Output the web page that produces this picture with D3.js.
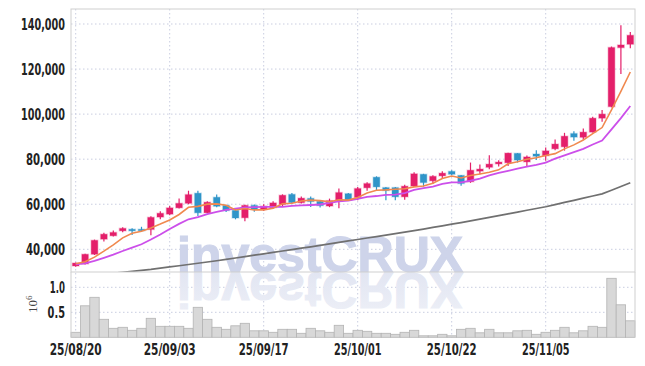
<!DOCTYPE html>
<html><head><meta charset="utf-8">
<script src="https://cdn.jsdelivr.net/npm/d3@7"></script>
<style>body{margin:0;background:#fff;} svg{display:block;}</style>
</head><body><svg id="c" width="645" height="366"></svg>
<script>
const dates = ["25/08/20","25/08/21","25/08/22","25/08/25","25/08/26","25/08/27","25/08/28","25/08/29","25/09/01","25/09/02",
"25/09/03","25/09/04","25/09/05","25/09/08","25/09/09","25/09/10","25/09/11","25/09/12","25/09/15","25/09/16",
"25/09/17","25/09/18","25/09/19","25/09/22","25/09/23","25/09/24","25/09/25","25/09/26","25/09/29","25/09/30",
"25/10/01","25/10/02","25/10/10","25/10/13","25/10/14","25/10/15","25/10/16","25/10/17","25/10/20","25/10/21",
"25/10/22","25/10/23","25/10/24","25/10/27","25/10/28","25/10/29","25/10/30","25/10/31","25/11/03","25/11/04",
"25/11/05","25/11/06","25/11/07","25/11/10","25/11/11","25/11/12","25/11/13","25/11/14","25/11/17","25/11/18"];
const open = [32600,33500,37800,44500,46000,48200,48900,48900,48800,54300,55600,58400,60400,64900,56200,63100,59500,57300,54000,59500,
57700,58500,59900,64400,60700,62600,61300,59200,61400,64700,63000,67300,72000,67400,67400,63300,68100,73300,70400,72600,
74600,72800,70000,74700,76400,77900,78400,82600,78800,82300,81500,84600,85500,91400,89700,92000,98200,103300,129500,131000];
const high = [34100,38000,44300,47300,48300,49800,49300,50000,54700,56900,59200,62500,66000,66000,61300,64300,59700,58100,59800,59900,
60000,61300,64400,65000,63400,63400,61500,62500,67000,65000,67700,69800,72400,67700,67600,68700,74200,73500,72900,74600,
75100,73000,78500,77600,81800,79500,82900,82700,81600,84000,85200,88700,91700,92400,93600,98800,101800,130000,139500,136400];
const low = [32300,33300,37500,43500,45700,47600,46300,48200,46200,53300,55100,58100,60000,54800,56000,58700,56600,53300,52400,56700,
57000,58100,59200,60200,60300,58800,58500,58700,58200,61700,61800,66000,66000,61800,61800,62000,67700,67800,69000,71500,
72900,68200,69500,73300,75500,76700,77000,78500,76700,79600,79300,84000,83800,88200,88700,91800,96600,103000,117800,129200];
const close = [33900,37800,44000,46700,47500,49300,48200,48300,54200,56000,58400,60400,64300,56200,60900,59100,57200,53900,59500,57700,
59200,60600,64000,60700,62700,61200,59400,61600,65200,61800,67000,69200,67700,66100,63300,68000,73500,69600,72400,73800,
73300,69200,75100,75600,77800,78700,82700,79600,81000,81300,83700,86700,90200,89800,92000,98200,100000,129600,130700,135000];
const volume = [100000,630000,800000,360000,180000,200000,140000,180000,380000,220000,220000,220000,180000,600000,360000,200000,160000,230000,280000,130000,
130000,100000,160000,160000,80000,180000,130000,100000,240000,80000,140000,120000,80000,80000,60000,100000,140000,30000,30000,60000,
30000,160000,180000,90000,160000,90000,90000,130000,140000,60000,100000,140000,200000,90000,130000,220000,200000,1180000,650000,330000];
const ma5 = [33580,34440,36540,39180,41980,45060,47140,48000,49500,51200,53020,55460,58660,59060,60040,60180,59540,57460,58120,57480,
57500,58180,60200,60440,61440,61840,61600,61120,62020,61840,63000,64960,66180,66360,66660,66860,67720,68100,69360,71460,
72520,71660,72760,73400,74200,75280,77980,78880,79960,80660,81660,82460,84580,86340,88480,91380,94040,101920,110100,118700];
const ma10 = [33360,33810,34880,36220,37640,39240,40730,42230,44320,46590,49040,51300,53330,54280,55620,56600,57500,58060,58590,58760,
58840,58860,58830,59280,59460,59670,59890,60660,61230,61640,62420,63280,63650,64190,64250,64930,66340,67140,67860,69060,
69690,69690,70430,71380,72830,73900,74820,75820,76680,77430,78470,80220,81730,83150,84570,86520,88250,93250,98220,103590];
const ma60 = [27700,28120,28540,28960,29380,29800,30220,30640,31060,31610,32160,32710,33260,33810,34360,34910,35530,36150,36770,37390,
38010,38630,39250,39870,40490,41110,41760,42410,43060,43710,44360,45010,45660,46310,46960,47610,48260,48980,49700,50420,
51140,51860,52580,53370,54160,54950,55740,56530,57320,58110,58900,59850,60800,61750,62700,63650,64600,66200,67850,69550];
const priceTicks = [40000,60000,80000,100000,120000,140000];
const volTicks = [500000,1000000];
const dateTicks = ["25/08/20","25/09/03","25/09/17","25/10/01","25/10/22","25/11/05"];

const svg = d3.select('#c');
const L=71, R=635, T=9, M=272, B=337.3;
const x = d3.scaleBand().domain(dates).range([L,R]).padding(0);
const cx = d => x(d) + x.bandwidth()/2;
const y = d3.scaleLinear().domain([29925,146660]).range([M,T]);
const yv = d3.scaleLinear().domain([0,1306000]).range([B,M]);

const defs = svg.append('defs');
defs.append('clipPath').attr('id','cp').append('rect').attr('x',L).attr('y',T).attr('width',R-L).attr('height',M-T);
const gr = defs.append('linearGradient').attr('id','refl').attr('x1',0).attr('y1',0).attr('x2',0).attr('y2',1);
gr.append('stop').attr('offset','0%').attr('stop-color','#eef0f7');
gr.append('stop').attr('offset','100%').attr('stop-color','#dfe3f1');

const gridC = '#c9cde0';
const g = svg.append('g');
g.selectAll('.hg').data(priceTicks).enter().append('line')
  .attr('x1',L).attr('x2',R).attr('y1',d=>y(d)).attr('y2',d=>y(d))
  .attr('stroke',gridC).attr('stroke-dasharray','1.5,2.5');
g.selectAll('.vg').data(volTicks).enter().append('line')
  .attr('x1',L).attr('x2',R).attr('y1',d=>yv(d)).attr('y2',d=>yv(d))
  .attr('stroke',gridC).attr('stroke-dasharray','1.5,2.5');
g.selectAll('.xg').data(dateTicks).enter().append('line')
  .attr('x1',d=>cx(d)).attr('x2',d=>cx(d)).attr('y1',T).attr('y2',B)
  .attr('stroke',gridC).attr('stroke-dasharray','1.5,2.5');

// watermark + reflection
svg.append('text').attr('x',177).attr('y',M).text('investCRUX')
  .attr('font-family','Liberation Sans, Arial, sans-serif').attr('font-weight','bold')
  .attr('font-size',50).attr('fill','#ced4ea').attr('stroke','#ced4ea').attr('stroke-width',1.2);
svg.append('g').attr('transform',`translate(0,${2*M+1}) scale(1,-1)`)
  .append('text').attr('x',177).attr('y',M).text('investCRUX')
  .attr('font-family','Liberation Sans, Arial, sans-serif').attr('font-weight','bold')
  .attr('font-size',50).attr('fill','url(#refl)').attr('stroke','url(#refl)').attr('stroke-width',1.2);

// volume bars
svg.append('g').selectAll('rect').data(dates).enter().append('rect')
  .attr('x',d=>x(d)).attr('width',x.bandwidth())
  .attr('y',(d,i)=>yv(volume[i])).attr('height',(d,i)=>B-yv(volume[i]))
  .attr('fill','#d8d8d8').attr('stroke','#b4b4b4').attr('stroke-width',0.8);

// candles
const up = '#e41f6a', dn = '#2f95c9';
const cg = svg.append('g').attr('clip-path','url(#cp)');
const bw = x.bandwidth()*0.7;
dates.forEach((d,i)=>{
  const col = close[i] >= open[i] ? up : dn;
  cg.append('line').attr('x1',cx(d)).attr('x2',cx(d)).attr('y1',y(high[i])).attr('y2',y(low[i]))
    .attr('stroke',col).attr('stroke-width',1.2);
  const t = y(Math.max(open[i],close[i])), b = y(Math.min(open[i],close[i]));
  cg.append('rect').attr('x',cx(d)-bw/2).attr('width',bw).attr('y',t).attr('height',Math.max(1.5,b-t))
    .attr('fill',col).attr('stroke',col).attr('stroke-opacity',0.25).attr('stroke-width',1.5);
});

// MA lines
const lg = svg.append('g').attr('clip-path','url(#cp)');
const line = arr => d3.line().x((d,i)=>cx(dates[i])).y(d=>y(d))(arr);
lg.append('path').attr('d',line(ma60)).attr('fill','none').attr('stroke','#707070').attr('stroke-width',1.7);
lg.append('path').attr('d',line(ma10)).attr('fill','none').attr('stroke','#cc4fea').attr('stroke-width',1.8);
lg.append('path').attr('d',line(ma5)).attr('fill','none').attr('stroke','#f0894f').attr('stroke-width',1.6);

// borders
const bc = '#cfcfcf';
svg.append('rect').attr('x',L).attr('y',T).attr('width',R-L).attr('height',M-T).attr('fill','none').attr('stroke',bc);
svg.append('line').attr('x1',L).attr('x2',L).attr('y1',M).attr('y2',B).attr('stroke',bc);
svg.append('line').attr('x1',R).attr('x2',R).attr('y1',M).attr('y2',B).attr('stroke',bc);

// axis labels (narrow look via textLength)
const lab = 'Liberation Sans Narrow, DejaVu Sans Condensed, DejaVu Sans, sans-serif';
const cw = ch => ch==='1' ? 5 : /[0-9]/.test(ch) ? 7.2 : ch==='/' ? 4.4 : 3;
const tl = s => s.split('').reduce((a,c)=>a+cw(c),0);
const fmt = d3.format(',');
svg.append('g').selectAll('text').data(priceTicks).enter().append('text')
  .attr('x',65).attr('y',d=>y(d)).attr('dy','0.36em').attr('text-anchor','end')
  .attr('font-family',lab).attr('font-weight','bold').attr('font-size',16).attr('fill','#222')
  .attr('textLength',d=>tl(fmt(d))).attr('lengthAdjust','spacingAndGlyphs')
  .text(d=>fmt(d));
svg.append('g').selectAll('text').data(volTicks).enter().append('text')
  .attr('x',65).attr('y',d=>yv(d)).attr('dy','0.36em').attr('text-anchor','end')
  .attr('font-family',lab).attr('font-weight','bold').attr('font-size',16).attr('fill','#222')
  .attr('textLength',d=>tl((d/1e6).toFixed(1))).attr('lengthAdjust','spacingAndGlyphs')
  .text(d=>(d/1e6).toFixed(1));
svg.append('g').selectAll('text').data(dateTicks).enter().append('text')
  .attr('x',d=>cx(d)).attr('y',354.5).attr('text-anchor','middle')
  .attr('font-family',lab).attr('font-weight','bold').attr('font-size',16).attr('fill','#222')
  .attr('textLength',d=>tl(d)).attr('lengthAdjust','spacingAndGlyphs')
  .text(d=>d);
const ex = svg.append('text').attr('transform','translate(37,313) rotate(-90)')
  .attr('font-family','Liberation Serif, DejaVu Serif, serif').attr('font-size',13).attr('fill','#444');
ex.append('tspan').text('10');
ex.append('tspan').attr('dy',-5).attr('font-size',9).text('6');
</script></body></html>
